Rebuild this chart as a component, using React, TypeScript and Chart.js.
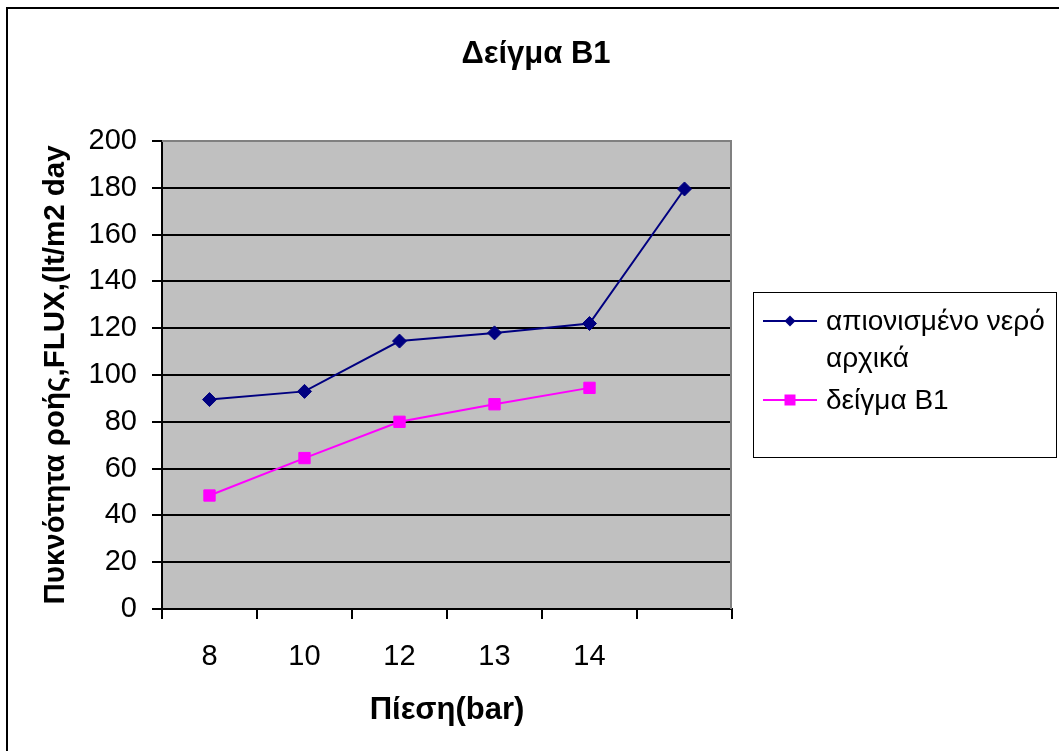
import React, { useEffect, useRef } from 'react';
import { Chart, registerables } from 'chart.js';

Chart.register(...registerables);

// Chart text
const chartTitle = 'Δείγμα B1';
const xAxisTitle = 'Πίεση(bar)';
const yAxisTitle = 'Πυκνότητα ροής,FLUX,(lt/m2 day';

// Pressure categories (last category carries no label)
const pressures = ['8', '10', '12', '13', '14', ''];

// Flux values per series
const deionizedWater = [89.5, 93, 114.5, 118, 122, 179.5];
const sampleB1 = [48.5, 64.5, 80, 87.5, 94.5, null];
const seriesNames = ['απιονισμένο νερό αρχικά', 'δείγμα B1'];

// Value axis range
const yMin = 0;
const yMax = 200;
const yStep = 20;

const FONT = "'Liberation Sans', Arial, Helvetica, sans-serif";
const NAVY = '#000080';
const MAGENTA = '#FF00FF';
const PLOT_BG = '#C0C0C0';
const PLOT_EDGE = '#808080';

function wrapText(ctx: CanvasRenderingContext2D, text: string, maxWidth: number): string[] {
  const words = text.split(' ');
  const lines: string[] = [];
  let line = '';
  for (const w of words) {
    const test = line ? line + ' ' + w : w;
    if (line && ctx.measureText(test).width > maxWidth) {
      lines.push(line);
      line = w;
    } else {
      line = test;
    }
  }
  if (line) lines.push(line);
  return lines;
}

const backgroundPlugin = {
  id: 'plotBackground',
  beforeDraw(chart: any) {
    const { ctx, chartArea: a, width, height } = chart;
    ctx.save();
    ctx.fillStyle = '#FFFFFF';
    ctx.fillRect(0, 0, width, height);
    ctx.fillStyle = PLOT_BG;
    ctx.fillRect(a.left, a.top, a.right - a.left, a.bottom - a.top);
    ctx.restore();
  },
  beforeDatasetsDraw(chart: any) {
    const { ctx, chartArea: a } = chart;
    ctx.save();
    ctx.strokeStyle = PLOT_EDGE;
    ctx.lineWidth = 2;
    ctx.beginPath();
    ctx.moveTo(a.left, a.top);
    ctx.lineTo(a.right - 1, a.top);
    ctx.lineTo(a.right - 1, a.bottom);
    ctx.stroke();
    ctx.restore();
  },
};

const decorPlugin = {
  id: 'decor',
  afterDraw(chart: any) {
    const { ctx, width, height } = chart;
    ctx.save();

    // outer frame
    ctx.strokeStyle = '#000';
    ctx.lineWidth = 2;
    ctx.beginPath();
    ctx.moveTo(7, height);
    ctx.lineTo(7, 8);
    ctx.lineTo(width, 8);
    ctx.stroke();

    // title
    ctx.fillStyle = '#000';
    ctx.font = `bold 31px ${FONT}`;
    ctx.textAlign = 'center';
    ctx.textBaseline = 'alphabetic';
    ctx.fillText(chartTitle, 536, 63);

    // legend
    const box = { left: 753, top: 292, right: 1056, bottom: 457 };
    ctx.lineWidth = 1;
    ctx.strokeStyle = '#000';
    ctx.strokeRect(box.left + 0.5, box.top + 0.5, box.right - box.left, box.bottom - box.top);

    ctx.font = `28px ${FONT}`;
    ctx.textAlign = 'left';
    const lineX1 = 763;
    const lineX2 = 817;
    const textX = 826;
    const lineGap = 37;
    let y = 321;
    chart.data.datasets.forEach((ds: any) => {
      ctx.strokeStyle = ds.borderColor;
      ctx.lineWidth = 2;
      ctx.beginPath();
      ctx.moveTo(lineX1, y);
      ctx.lineTo(lineX2, y);
      ctx.stroke();
      ctx.fillStyle = ds.backgroundColor;
      const cx = (lineX1 + lineX2) / 2;
      ctx.beginPath();
      if (ds.pointStyle === 'rectRot') {
        const r = 5.5;
        ctx.moveTo(cx - r, y);
        ctx.lineTo(cx, y - r);
        ctx.lineTo(cx + r, y);
        ctx.lineTo(cx, y + r);
        ctx.closePath();
      } else {
        const h = 5.5;
        ctx.rect(cx - h, y - h, 2 * h, 2 * h);
      }
      ctx.fill();
      ctx.fillStyle = '#000';
      const lines = wrapText(ctx, ds.label, box.right - textX - 3);
      lines.forEach((ln, i) => ctx.fillText(ln, textX, y + 8.5 + i * lineGap));
      y += lines.length * lineGap + 5;
    });

    ctx.restore();
  },
};

export default function App() {
  const canvasRef = useRef<HTMLCanvasElement>(null);

  useEffect(() => {
    const canvas = canvasRef.current;
    if (!canvas) return;
    const chart = new Chart(canvas, {
      type: 'line',
      data: {
        labels: pressures,
        datasets: [
          {
            label: seriesNames[0],
            data: deionizedWater,
            borderColor: NAVY,
            backgroundColor: NAVY,
            borderWidth: 2,
            pointStyle: 'rectRot',
            pointRadius: 7,
            pointBorderWidth: 1,
            tension: 0,
          },
          {
            label: seriesNames[1],
            data: sampleB1,
            borderColor: MAGENTA,
            backgroundColor: MAGENTA,
            borderWidth: 2,
            pointStyle: 'rect',
            pointRadius: 8,
            pointBorderWidth: 1,
            tension: 0,
          },
        ],
      },
      options: {
        responsive: false,
        animation: false,
        events: [],
        layout: { padding: { top: 141, right: 327, bottom: 0, left: 0 } },
        plugins: {
          legend: { display: false },
          title: { display: false },
          tooltip: { enabled: false },
        },
        scales: {
          x: {
            offset: true,
            grid: {
              offset: true,
              drawOnChartArea: false,
              drawTicks: true,
              tickLength: 10,
              tickColor: '#000',
              lineWidth: 2,
            },
            border: { display: true, color: '#000', width: 2 },
            ticks: {
              color: '#000',
              font: { family: FONT, size: 29 },
              padding: 21,
              maxRotation: 0,
              autoSkip: false,
            },
            title: {
              display: true,
              text: xAxisTitle,
              color: '#000',
              font: { family: FONT, size: 31, weight: 'bold' },
              padding: { top: 0, bottom: 22 },
            },
            afterFit: (s: any) => {
              s.height = 142;
            },
          },
          y: {
            min: yMin,
            max: yMax,
            ticks: {
              stepSize: yStep,
              color: '#000',
              font: { family: FONT, size: 29 },
              padding: 15,
            },
            grid: {
              color: (c: any) => (c.tick && c.tick.value === yMax ? PLOT_EDGE : '#000'),
              lineWidth: 2,
              tickLength: 10,
              tickColor: '#000',
            },
            border: { display: true, color: '#000', width: 2 },
            title: {
              display: true,
              text: yAxisTitle,
              color: '#000',
              font: { family: FONT, size: 29.5, weight: 'bold' },
              padding: { top: 38, bottom: 0 },
            },
            afterFit: (s: any) => {
              s.width = 162;
            },
          },
        },
      },
      plugins: [backgroundPlugin, decorPlugin],
    });
    return () => chart.destroy();
  }, []);

  return (
    <div style={{ position: 'fixed', left: 0, top: 0, width: 1059, height: 751, background: '#fff' }}>
      <canvas ref={canvasRef} width={1059} height={751} />
    </div>
  );
}
